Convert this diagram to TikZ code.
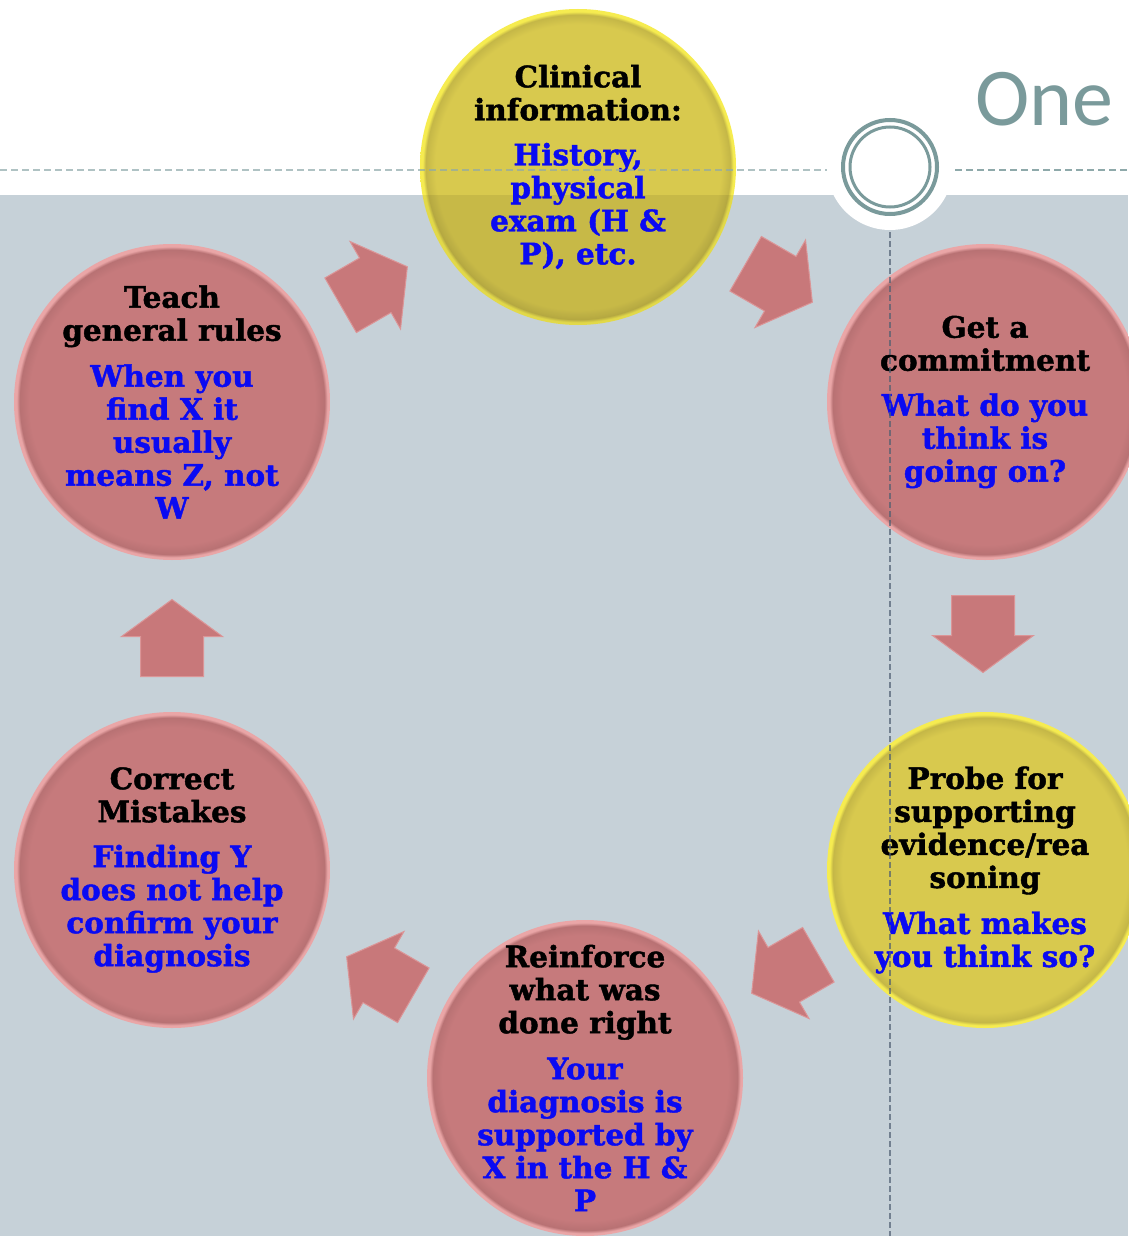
\documentclass[tikz,border=0pt]{standalone}
\usepackage{fontspec}
\setmainfont{DejaVu Serif}[BoldFeatures={FakeBold=1.5}]
\newfontfamily\onefont{Carlito}
\usetikzlibrary{calc}

\definecolor{bandgray}{HTML}{C6D1D8}
\definecolor{ringteal}{HTML}{7A9A9B}
\definecolor{rosefill}{HTML}{C67A7C}
\definecolor{roserim}{HTML}{EAA6A7}
\definecolor{goldfill}{HTML}{D8C94E}
\definecolor{goldrim}{HTML}{F6EC50}
\definecolor{arrowfill}{HTML}{C8787A}
\definecolor{arrowrim}{HTML}{DB9597}
\definecolor{bodyblue}{HTML}{0A0AF2}
\definecolor{guidegray}{HTML}{4F5F72}

\pgfdeclareradialshading{roseball}{\pgfpoint{0bp}{0bp}}{color(0bp)=(rosefill); color(22.6bp)=(rosefill); color(24.1bp)=(rosefill!93!black); color(24.6bp)=(roserim); color(25bp)=(roserim); color(50bp)=(roserim)}
\pgfdeclareradialshading{goldball}{\pgfpoint{0bp}{0bp}}{color(0bp)=(goldfill); color(22.6bp)=(goldfill); color(24.1bp)=(goldfill!91!black); color(24.6bp)=(goldrim); color(25bp)=(goldrim); color(50bp)=(goldrim)}

\begin{document}
\begin{tikzpicture}[x=1pt,y=-1pt,
    rosecircle/.style={circle, minimum size=316pt, inner sep=0pt, shading=roseball},
    goldcircle/.style={circle, minimum size=316pt, inner sep=0pt, shading=goldball},
    cycletext/.style={align=center, inner sep=0pt, font=\fontsize{29.5}{33}\selectfont\bfseries}]
    % Define block arrow: centre, angle
    \def\cyclearrow#1#2{%
        \filldraw[arrowfill, draw=arrowrim, line width=1pt, shift={#1}, rotate=#2]
            (38.5,0) -- (1.5,50.5) -- (1.5,31.5) -- (-38.5,31.5) -- (-38.5,-31.5)
            -- (1.5,-31.5) -- (1.5,-50.5) -- cycle;}

    % Draw page and band
    \useasboundingbox (0,0) rectangle (1128,1236);
    \fill[white] (0,0) rectangle (1128,1236);
    \fill[bandgray] (0,195) rectangle (1128,1236);

    % Draw circles of the cycle
    \node[goldcircle] (clinical) at (578,167) {};
    \node[rosecircle] (commit) at (985,402) {};
    \node[goldcircle] (probe) at (985,870) {};
    \node[rosecircle] (reinforce) at (585,1078) {};
    \node[rosecircle] (correct) at (172,870) {};
    \node[rosecircle] (teach) at (172,402) {};

    % Band seen through the top circle
    \begin{scope}
        \clip (578,167) circle (158);
        \fill[black, opacity=0.08] (419,195) rectangle (738,330);
    \end{scope}

    % Draw arrows between circles
    \cyclearrow{(374,286)}{30}
    \cyclearrow{(779,283)}{-30}
    \cyclearrow{(983,634)}{-90}
    \cyclearrow{(785,974)}{210}
    \cyclearrow{(380,976)}{150}
    \cyclearrow{(172,638)}{90}

    % Draw texts of the circles
    \node[cycletext] (clinicaltxt) at (clinical) {Clinical\\information:\\[12pt]
        \color{bodyblue}History,\\\color{bodyblue}physical\\\color{bodyblue}exam (H \&\\\color{bodyblue}P), etc.};
    \node[cycletext] (committxt) at (commit) {Get a\\commitment\\[12pt]
        \color{bodyblue}What do you\\\color{bodyblue}think is\\\color{bodyblue}going on?};
    \node[cycletext] (probetxt) at (probe) {Probe for\\supporting\\evidence/rea\\soning\\[13pt]
        \color{bodyblue}What makes\\\color{bodyblue}you think so?};
    \node[cycletext] (reinforcetxt) at (reinforce) {Reinforce\\what was\\done right\\[13pt]
        \color{bodyblue}Your\\\color{bodyblue}diagnosis is\\\color{bodyblue}supported by\\\color{bodyblue}X in the H \&\\\color{bodyblue}P};
    \node[cycletext] (correcttxt) at (correct) {Correct\\Mistakes\\[12pt]
        \color{bodyblue}Finding Y\\\color{bodyblue}does not help\\\color{bodyblue}confirm your\\\color{bodyblue}diagnosis};
    \node[cycletext] (teachtxt) at (teach) {Teach\\general rules\\[13pt]
        \color{bodyblue}When you\\\color{bodyblue}find X it\\\color{bodyblue}usually\\\color{bodyblue}means Z, not\\\color{bodyblue}W};

    % Draw title guide lines
    \draw[ringteal!85, line width=1.5pt, dash pattern=on 7pt off 4pt, opacity=0.7] (0,170) -- (830,170);
    \draw[ringteal!85, line width=1.5pt, dash pattern=on 7pt off 4pt] (955,170) -- (1128,170);
    \draw[guidegray, line width=1.2pt, dash pattern=on 6pt off 3pt, opacity=0.7] (890,232) -- (890,1236);

    % Draw title ring
    \fill[white] (890,167) circle (63);
    \draw[ringteal, line width=4pt] (890,167) circle (47);
    \draw[ringteal, line width=3pt] (890,167) circle (40);
    \node[text=ringteal, anchor=base west, inner sep=0pt, font=\onefont\fontsize{82}{82}\selectfont] (title) at (975,125) {One};
\end{tikzpicture}
\end{document}
